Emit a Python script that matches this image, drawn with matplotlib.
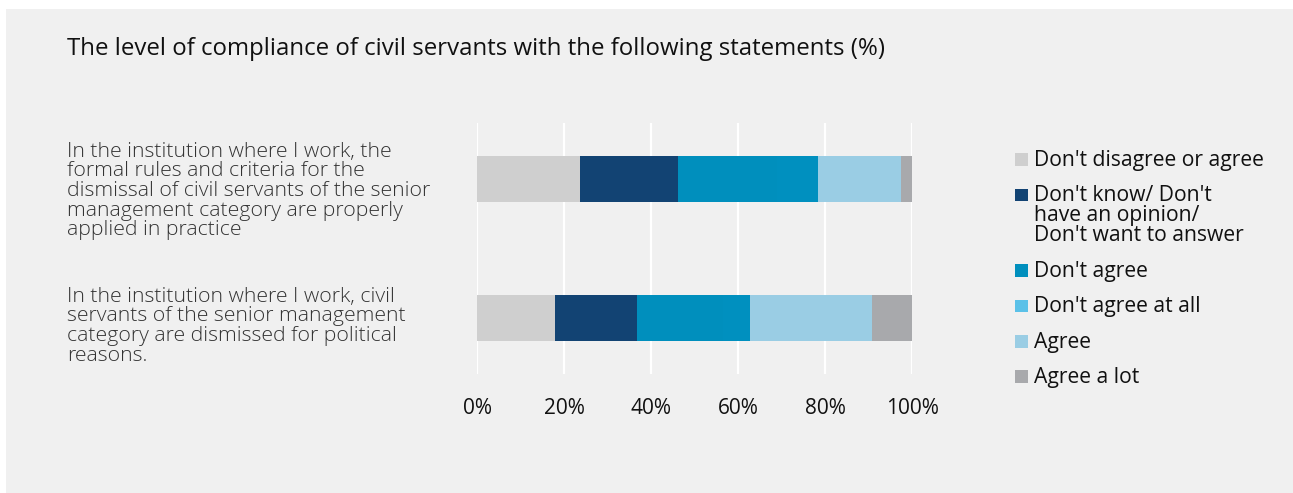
import matplotlib
matplotlib.use("Agg")
import matplotlib.pyplot as plt
from matplotlib.patches import Rectangle
import numpy as np

# Survey responses (%), one value per statement for each answer
statements = [
    "In the institution where I work, the\nformal rules and criteria for the\ndismissal of civil servants of the senior\nmanagement category are properly\napplied in practice",
    "In the institution where I work, civil\nservants of the senior management\ncategory are dismissed for political\nreasons.",
]
answers = [
    "Don't disagree or agree",
    "Don't know/ Don't\nhave an opinion/\nDon't want to answer",
    "Don't agree",
    "Don't agree at all",
    "Agree",
    "Agree a lot",
]
neither = [23.7, 17.9]
dont_know = [22.5, 18.9]
dont_agree = [22.8, 19.8]
dont_agree_at_all = [9.4, 6.2]
agree = [19.1, 27.9]
agree_a_lot = [2.5, 9.3]
tick_values = [0, 20, 40, 60, 80, 100]
tick_labels = ["0%", "20%", "40%", "60%", "80%", "100%"]

series = [neither, dont_know, dont_agree, dont_agree_at_all, agree, agree_a_lot]
bar_colors = ["#cfcfcf", "#124373", "#008fbd", "#0090bf", "#9acde4", "#a8a9ac"]
key_colors = ["#cfcfcf", "#124373", "#008fbd", "#5bc1e8", "#9acde4", "#a8a9ac"]

W, H = 1293, 493
plt.rcParams["font.family"] = ["Open Sans", "DejaVu Sans"]
fig = plt.figure(figsize=(W / 100, H / 100), dpi=100)
fig.patch.set_facecolor("white")

# light grey panel behind everything
fig.patches.append(Rectangle((6 / W, 0), 1, 1 - 9 / H, transform=fig.transFigure,
                             facecolor="#f0f0f0", edgecolor="none", zorder=-5))

ax = fig.add_axes([477 / W, 1 - 374 / H, 435 / W, 251 / H])
ax.set_facecolor("none")
ax.set_zorder(1)

y = np.arange(len(statements))
left = np.zeros(len(statements))
for vals, col in zip(series, bar_colors):
    ax.barh(y, vals, left=left, height=0.324, color=col, edgecolor="none", zorder=2)
    left += np.array(vals)

ax.set_xlim(0, 100)
ax.set_ylim(len(statements) - 1 + 0.403, -0.403)
ax.set_xticks(tick_values)
ax.set_xticklabels(tick_labels)
ax.set_yticks([])
ax.tick_params(axis="x", length=0, pad=17, labelsize=15, labelcolor="#111111")
for s in ax.spines.values():
    s.set_visible(False)
ax.grid(axis="x", color="white", linewidth=1.6, zorder=1)
ax.set_axisbelow(True)

# statement labels, left-aligned in the margin (top edge in pixels from the top)
label_tops_px = [141.5, 286.8]
for top, text in zip(label_tops_px, statements):
    fig.text(67 / W, 1 - top / H, text, ha="left", va="top",
             fontsize=15.3, color="#333333", fontweight="light", linespacing=0.98)

# title
fig.text(67 / W, 1 - 55 / H, "The level of compliance of civil servants with the following statements (%)",
         ha="left", va="baseline", fontsize=17.3, color="#111111")

# key on the right
base = 165.7
for label, col in zip(answers, key_colors):
    fig.patches.append(Rectangle((1015 / W, 1 - base / H), 12.7 / W, 12.7 / H,
                                 transform=fig.transFigure, facecolor=col,
                                 edgecolor="none", zorder=3))
    lines = label.split("\n")
    for i, line in enumerate(lines):
        fig.text(1034 / W, 1 - (base + 20 * i) / H, line, ha="left", va="baseline",
                 fontsize=15.2, color="#111111")
    base += 35.5 + 20 * (len(lines) - 1)

fig.savefig("out.png", dpi=100, facecolor=fig.get_facecolor())
